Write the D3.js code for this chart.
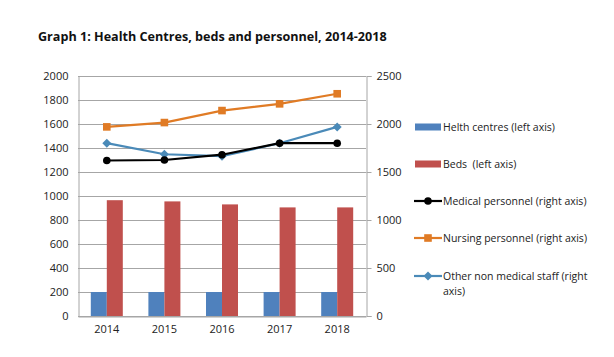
<!DOCTYPE html>
<html><head><meta charset="utf-8">
<script src="https://cdn.jsdelivr.net/npm/d3@7"></script>
<style>body{margin:0;background:#fff}svg{display:block}text{font-family:"Open Sans","Liberation Sans",sans-serif;white-space:pre}</style>
</head><body><svg id="c" width="614" height="357"></svg>
<script>
const years = ["2014","2015","2016","2017","2018"];
const healthCentres = [200, 200, 200, 200, 200];
const beds = [965, 955, 930, 905, 905];
const medical = [1620, 1625, 1680, 1800, 1800];
const nursing = [1970, 2015, 2140, 2210, 2315];
const otherStaff = [1800, 1685, 1665, 1800, 1970];
const leftTicks = [0,200,400,600,800,1000,1200,1400,1600,1800,2000];
const rightTicks = [0,500,1000,1500,2000,2500];
const legendLabels = ["Helth centres (left axis)","Beds  (left axis)","Medical personnel (right axis)","Nursing personnel (right axis)","Other non medical staff (right axis)"];

const svg = d3.select("#c");
const L=78,R=366,T=76,B=316;
const x = d3.scaleBand().domain(years).range([L,R]);
const yL = d3.scaleLinear().domain([0,2000]).range([B,T]);
const yR = d3.scaleLinear().domain([0,2500]).range([B,T]);
const fmt = d3.format("d");

svg.append("text").attr("x",38).attr("y",41).attr("font-size",12.6).attr("font-weight","bold").attr("fill","#111")
  .text("Graph 1: Health Centres, beds and personnel, 2014-2018");

// gridlines
svg.append("g").selectAll("line").data(leftTicks).join("line")
  .attr("x1",L).attr("x2",R).attr("y1",d=>yL(d)+0.5).attr("y2",d=>yL(d)+0.5)
  .attr("stroke","#a6a6a6").attr("stroke-width",1);

// left axis
const gl = svg.append("g").attr("transform",`translate(${L+0.5},0)`)
  .call(d3.axisLeft(yL).tickValues(leftTicks).tickFormat(fmt).tickSize(0).tickPadding(10));
gl.select(".domain").attr("stroke","#a6a6a6");
gl.selectAll("text").attr("font-size",11).attr("fill","#222").attr("font-family","'Open Sans',sans-serif");

// right axis
const gr = svg.append("g").attr("transform",`translate(${R+0.5},0)`)
  .call(d3.axisRight(yR).tickValues(rightTicks).tickFormat(fmt).tickSize(5).tickPadding(5));
gr.select(".domain").attr("stroke","#a6a6a6");
gr.selectAll("line").attr("stroke","#a6a6a6");
gr.selectAll("text").attr("font-size",11).attr("fill","#222").attr("font-family","'Open Sans',sans-serif");

// bottom axis
const gb = svg.append("g").attr("transform",`translate(0,${B+0.5})`)
  .call(d3.axisBottom(x).tickSize(0).tickPadding(9));
gb.select(".domain").attr("stroke","#a6a6a6");
gb.selectAll("text").attr("font-size",11).attr("fill","#222").attr("font-family","'Open Sans',sans-serif");

const bw = 16;
svg.append("g").selectAll("rect").data(healthCentres).join("rect")
  .attr("x",(d,i)=>x(years[i])+x.bandwidth()/2-bw).attr("width",bw)
  .attr("y",d=>yL(d)).attr("height",d=>B-yL(d)).attr("fill","#4f81bd");
svg.append("g").selectAll("rect").data(beds).join("rect")
  .attr("x",(d,i)=>x(years[i])+x.bandwidth()/2).attr("width",bw)
  .attr("y",d=>yL(d)).attr("height",d=>B-yL(d)).attr("fill","#c0504d");

const cx = i => x(years[i])+x.bandwidth()/2;
const line = d3.line().x((d,i)=>cx(i)).y(d=>yR(d));
function series(data,color,marker){
  svg.append("path").datum(data).attr("d",line).attr("fill","none").attr("stroke",color).attr("stroke-width",2.2);
  const g = svg.append("g");
  data.forEach((d,i)=>drawMarker(g,cx(i),yR(d),color,marker));
}
function drawMarker(g,px,py,color,marker){
  if(marker==="circle") g.append("circle").attr("cx",px).attr("cy",py).attr("r",3.8).attr("fill",color);
  else if(marker==="square") g.append("rect").attr("x",px-3.8).attr("y",py-3.8).attr("width",7.6).attr("height",7.6).attr("fill",color);
  else g.append("path").attr("d",`M${px},${py-4.5}L${px+4.5},${py}L${px},${py+4.5}L${px-4.5},${py}Z`).attr("fill",color);
}
series(otherStaff,"#4a8ab8","diamond");
series(medical,"#000","circle");
series(nursing,"#e07b25","square");

// legend
const lg = svg.append("g");
const ly = [127,164,201,238,276];
const styles = [{t:"bar",c:"#4f81bd"},{t:"bar",c:"#c0504d"},{t:"line",c:"#000",m:"circle"},{t:"line",c:"#e07b25",m:"square"},{t:"line",c:"#4a8ab8",m:"diamond"}];
styles.forEach((s,i)=>{
  const yy = ly[i];
  if(s.t==="bar") lg.append("rect").attr("x",415).attr("y",yy-3.5).attr("width",26).attr("height",7).attr("fill",s.c);
  else{
    lg.append("line").attr("x1",414).attr("x2",442).attr("y1",yy).attr("y2",yy).attr("stroke",s.c).attr("stroke-width",2.2);
    drawMarker(lg,428,yy,s.c,s.m);
  }
});
legendLabels.forEach((t,i)=>{
  const txt = lg.append("text").attr("x",443).attr("y",ly[i]+4).attr("font-size",10.5).attr("fill","#222");
  if(i===4){
    txt.append("tspan").attr("x",443).text("Other non medical staff (right");
    txt.append("tspan").attr("x",443).attr("dy",15).text("axis)");
  } else txt.text(t);
});
</script></body></html>
